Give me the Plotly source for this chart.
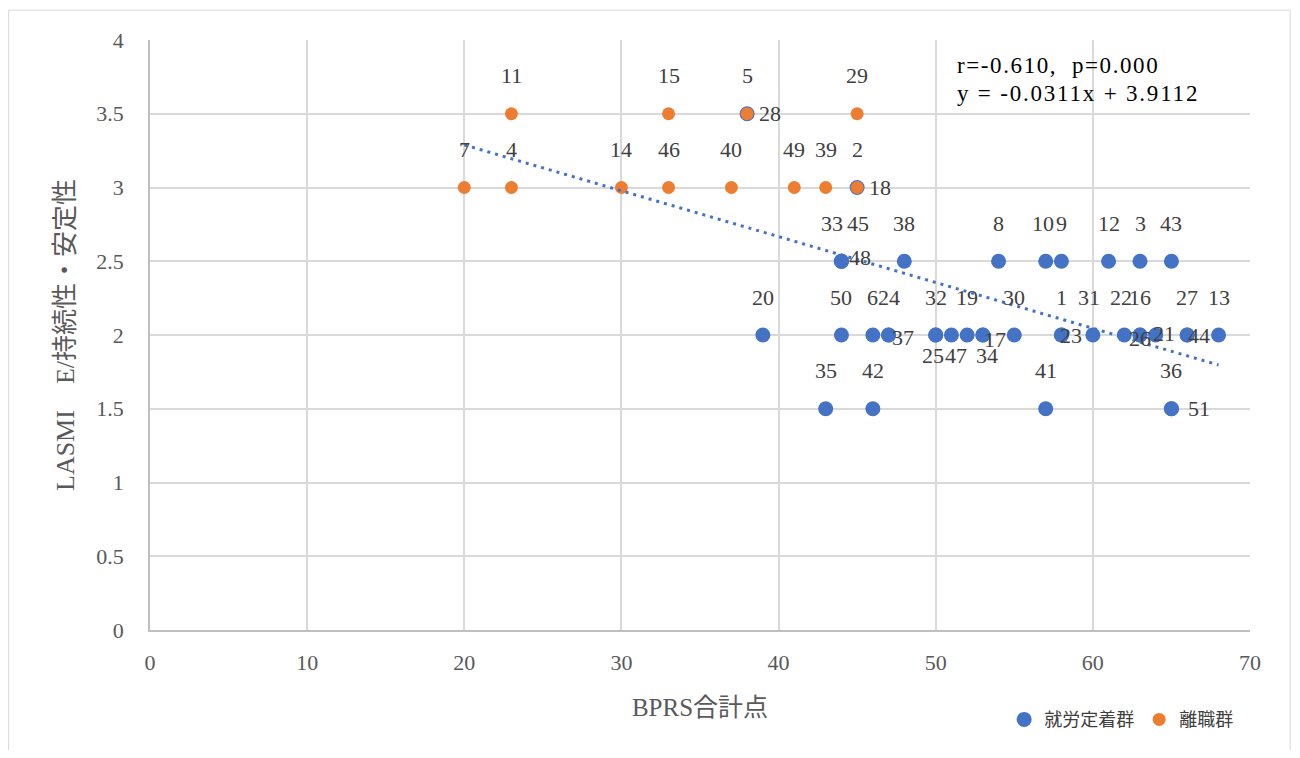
import numpy as np
import plotly.graph_objects as go

# ---- data -------------------------------------------------------------
# 就労定着群 (blue)
blue_ids = [28, 18, 33, 45, 48, 38, 8, 10, 9, 12, 3, 43,
            20, 50, 6, 24, 37, 32, 25, 47, 19, 34, 17, 30, 1, 23, 31, 22, 16, 26, 21, 27, 44, 13,
            35, 42, 41, 36, 51]
blue_x = [38, 45, 44, 44, 44, 48, 54, 57, 58, 61, 63, 65,
          39, 44, 46, 47, 47, 50, 50, 51, 52, 53, 53, 55, 58, 58, 60, 62, 63, 63, 64, 66, 66, 68,
          43, 46, 57, 65, 65]
blue_y = [3.5, 3.0, 2.5, 2.5, 2.5, 2.5, 2.5, 2.5, 2.5, 2.5, 2.5, 2.5,
          2, 2, 2, 2, 2, 2, 2, 2, 2, 2, 2, 2, 2, 2, 2, 2, 2, 2, 2, 2, 2, 2,
          1.5, 1.5, 1.5, 1.5, 1.5]

# 離職群 (orange)
orange_ids = [11, 15, 5, 29, 7, 4, 14, 46, 40, 49, 39, 2]
orange_x = [23, 33, 38, 45, 20, 23, 30, 33, 37, 41, 43, 45]
orange_y = [3.5, 3.5, 3.5, 3.5, 3, 3, 3, 3, 3, 3, 3, 3]

stats_text = "r=-0.610,  p=0.000"
eq_text = "y = -0.0311x + 3.9112"

x_ticks = [0, 10, 20, 30, 40, 50, 60, 70]
y_ticks = [0, 0.5, 1, 1.5, 2, 2.5, 3, 3.5, 4]

# ---- label placement (pixel shifts, layout only) -----------------------
ABOVE = (0, 38)
label_shift = {
    28: (23, 0), 18: (23, 0), 33: (-9, 38), 45: (17, 38), 48: (19, 4),
    10: (-3, 38), 31: (-4, 38), 22: (-3, 38),
    37: (14, -2), 25: (-3, -20), 47: (5, -20), 34: (4, -20), 17: (12, -4),
    23: (10, 0), 26: (0, -3), 21: (8, 2), 44: (12, 0), 51: (28, 0),
}

BLUE = "#4472C4"
ORANGE = "#ED7D31"
SERIF = "Liberation Serif, Noto Sans CJK JP"

fig = go.Figure()
fig.add_trace(go.Scatter(x=blue_x, y=blue_y, mode="markers", name="就労定着群",
                         marker=dict(color=BLUE, size=15, line=dict(width=0))))
fig.add_trace(go.Scatter(x=orange_x, y=orange_y, mode="markers", name="離職群",
                         marker=dict(color=ORANGE, size=13, line=dict(width=0))))

# linear trendline over all points
all_x = np.array(blue_x + orange_x, dtype=float)
all_y = np.array(blue_y + orange_y, dtype=float)
slope, intercept = np.polyfit(all_x, all_y, 1)
tx = np.array([all_x.min(), all_x.max()])
fig.add_trace(go.Scatter(x=tx, y=slope * tx + intercept, mode="lines", showlegend=False,
                         line=dict(color=BLUE, width=3, dash="3px,5px"), hoverinfo="skip"))

annotations = []
for ids, xs, ys in ((blue_ids, blue_x, blue_y), (orange_ids, orange_x, orange_y)):
    for i, x, y in zip(ids, xs, ys):
        dx, dy = label_shift.get(i, ABOVE)
        annotations.append(dict(x=x, y=y, xref="x", yref="y", text=str(i), showarrow=False,
                                xanchor="center", yanchor="middle", xshift=dx, yshift=dy,
                                font=dict(family=SERIF, size=22, color="#404040")))

annotations.append(dict(x=51.2, y=3.83, xref="x", yref="y",
                        text='<span style="letter-spacing:1.6px">' + stats_text + '</span>',
                        showarrow=False, xanchor="left", yanchor="middle",
                        font=dict(family=SERIF, size=23, color="#000000")))
annotations.append(dict(x=51.2, y=3.64, xref="x", yref="y",
                        text='<span style="letter-spacing:1.8px">' + eq_text + '</span>',
                        showarrow=False, xanchor="left", yanchor="middle",
                        font=dict(family=SERIF, size=23, color="#000000")))

W, H = 1284, 742
fig.update_layout(
    width=W, height=H,
    margin=dict(l=142, r=42, t=32, b=118),
    paper_bgcolor="white", plot_bgcolor="white",
    annotations=annotations,
    showlegend=True,
    legend=dict(orientation="h", x=0.7765, y=-0.152, xanchor="left", yanchor="middle",
                font=dict(family="Noto Sans CJK JP", size=18, color="#404040"),
                itemwidth=30, bgcolor="rgba(0,0,0,0)"),
    shapes=[dict(type="rect", xref="paper", yref="paper", x0=-0.1285, x1=1.0365,
                 y0=-0.25, y1=1.0507, line=dict(color="#d9d9d9", width=1), layer="below")],
)
fig.update_xaxes(range=[0, 70], tickvals=x_ticks, showgrid=True, gridcolor="#d9d9d9", gridwidth=1.5,
                 zeroline=False, showline=True, linecolor="#bfbfbf", linewidth=1.5,
                 ticks="", ticklabelstandoff=12,
                 tickfont=dict(family=SERIF, size=22, color="#595959"),
                 title=dict(text="BPRS合計点", standoff=24,
                            font=dict(family=SERIF, size=25, color="#595959")))
fig.update_yaxes(range=[0, 4], tickvals=y_ticks, showgrid=True, gridcolor="#d9d9d9", gridwidth=1.5,
                 zeroline=False, showline=True, linecolor="#bfbfbf", linewidth=1.5,
                 ticks="", ticklabelstandoff=20,
                 tickfont=dict(family=SERIF, size=22, color="#595959"),
                 title=dict(text="LASMI　E/持続性・安定性", standoff=14,
                            font=dict(family=SERIF, size=26, color="#595959")))

fig.write_html("out.html")
